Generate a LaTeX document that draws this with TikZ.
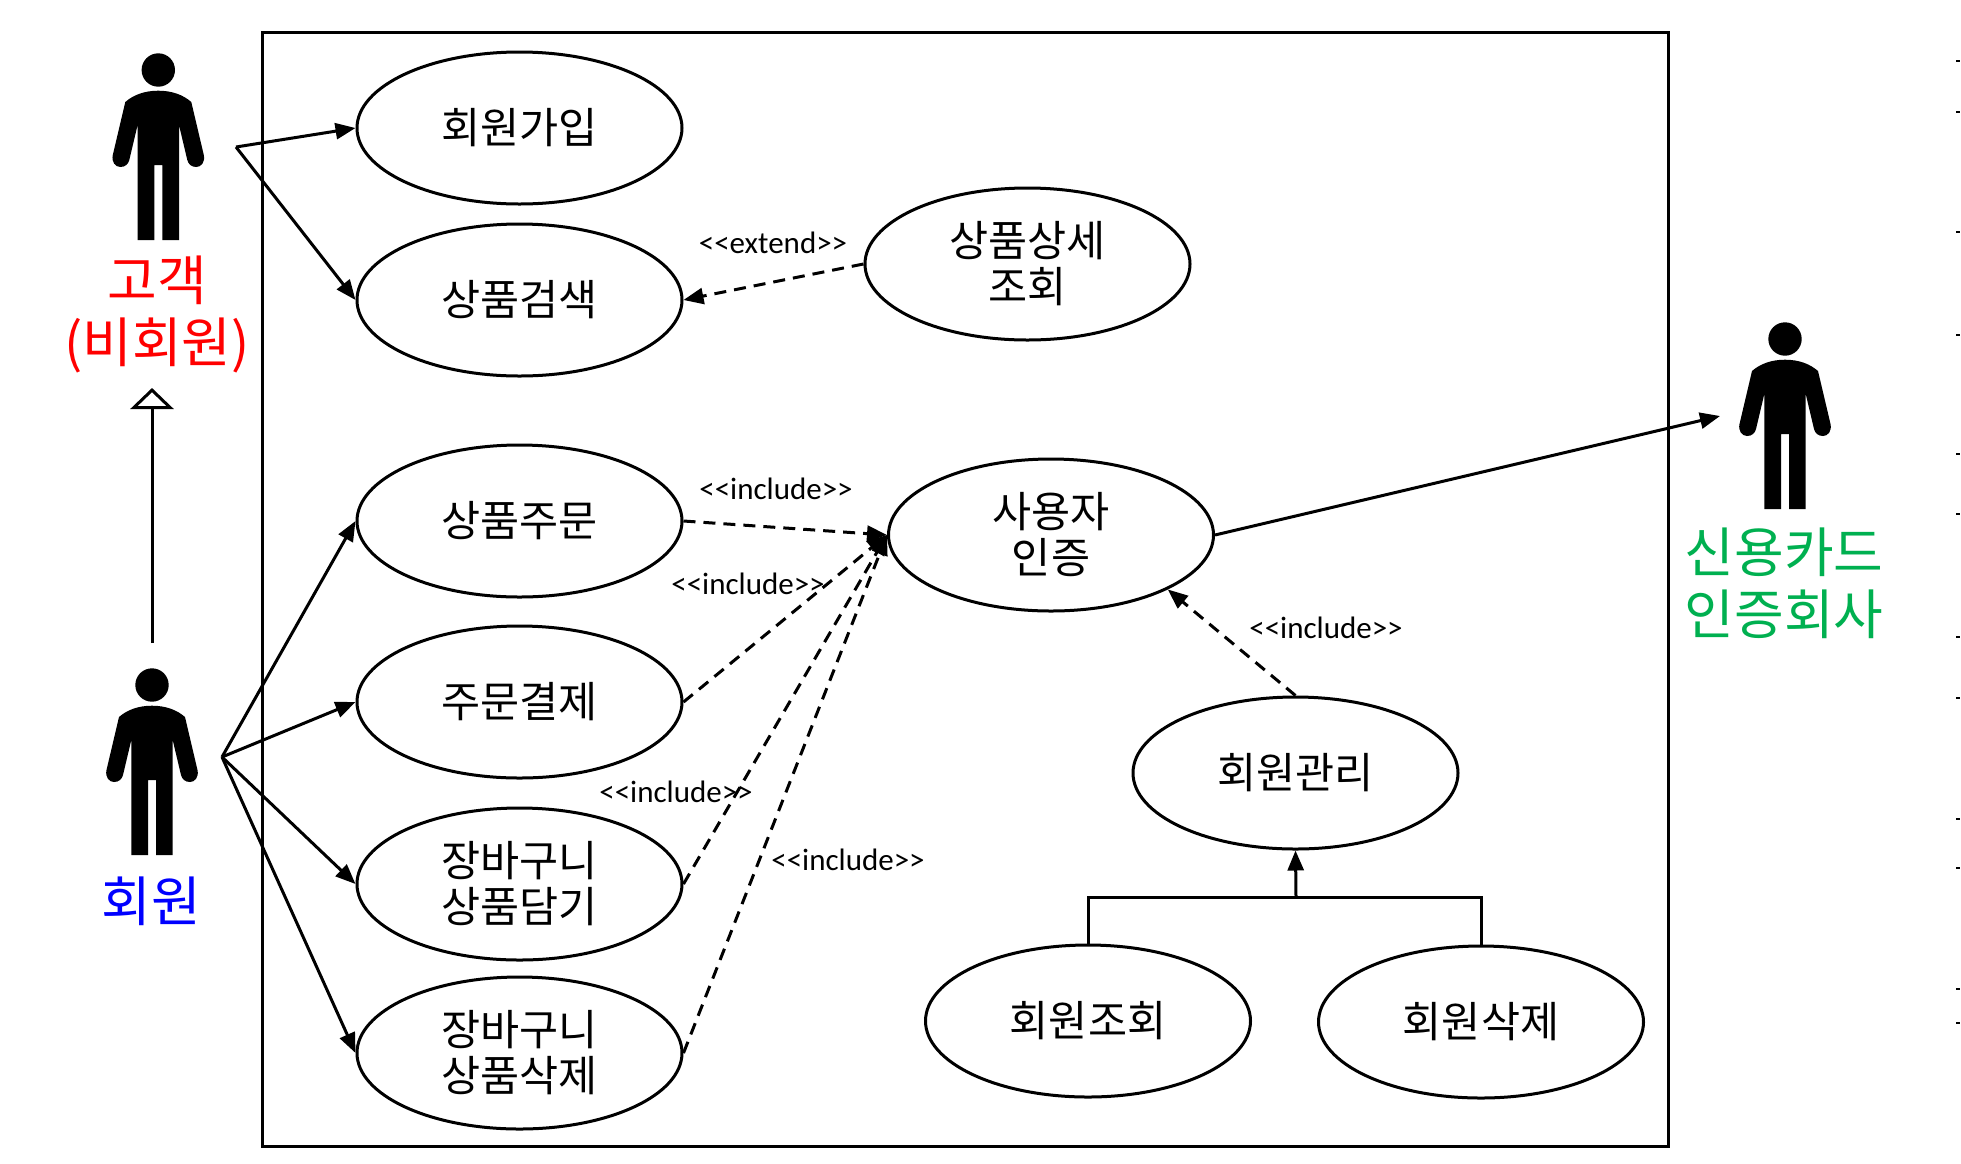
\documentclass[tikz,border=0pt]{standalone}
\usepackage{fontspec}
\setmainfont{Noto Sans CJK KR}
\newfontfamily\labelfont{Carlito}
\usetikzlibrary{arrows.meta,shapes.geometric}
\definecolor{actgreen}{RGB}{0,176,80}
\tikzset{
  x=1pt,y=-1pt,
  usecase/.style={draw=black,line width=3pt,ellipse,minimum width=325pt,minimum height=152pt,inner sep=0pt,font=\fontsize{42.5}{46}\selectfont,align=center},
  assoc/.style={line width=3pt,-{Triangle[length=20pt,width=16pt]}},
  dep/.style={assoc,dash pattern=on 12pt off 8pt},
  gen/.style={line width=3pt},
  stereo/.style={font=\labelfont\fontsize{31}{34}\selectfont,inner sep=0pt},
  actorlabel/.style={font=\fontsize{54}{62}\selectfont,align=center,inner sep=0pt},
  speck/.style={line width=1.5pt},
}
\newcommand{\actorfig}[2]{%
  \begin{scope}[shift={(#1,#2)}]
    \fill (0,0) circle[radius=16.7];
    \fill (0,20.7) .. controls (14,20.7) and (25,25) .. (33,32)
      -- (45.5,85) .. controls (47,92) and (43,97) .. (38,97)
      .. controls (33,97) and (30,94) .. (29,90) -- (20.7,55)
      -- (20.7,170) -- (4,170) -- (4,95) -- (-4,95) -- (-4,170) -- (-20.7,170)
      -- (-20.7,55) -- (-29,90) .. controls (-30,94) and (-33,97) .. (-38,97)
      .. controls (-43,97) and (-47,92) .. (-45.5,85)
      -- (-33,32) .. controls (-25,25) and (-14,20.7) .. (0,20.7) -- cycle;
  \end{scope}}
\begin{document}
\begin{tikzpicture}
\useasboundingbox (0,0) rectangle (1961,1163);
\fill[white] (0,0) rectangle (1961,1163);
\draw[line width=3pt] (262.5,32) rectangle (1668,1146);

\actorfig{158.3}{70}
\actorfig{152}{685}
\actorfig{1785}{339}

\node[actorlabel,text=red] (lblcust) at (157,314) {고객\\(비회원)};
\node[actorlabel,text=blue] (lblmem) at (151,901) {회원};
\node[actorlabel,text=actgreen] (lblcard) at (1784,583) {신용카드\\인증회사};

\node[usecase] (join) at (519.5,128) {회원가입};
\node[usecase] (search) at (519.5,300) {상품검색};
\node[usecase] (detail) at (1027.5,264) {상품상세\\조회};
\node[usecase] (order) at (519.5,521) {상품주문};
\node[usecase] (pay) at (519.5,702) {주문결제};
\node[usecase] (cartadd) at (519.5,884) {장바구니\\상품담기};
\node[usecase] (cartdel) at (519.5,1053) {장바구니\\상품삭제};
\node[usecase] (auth) at (1051,535) {사용자\\인증};
\node[usecase] (mgmt) at (1295.5,773) {회원관리};
\node[usecase] (view) at (1088,1021) {회원조회};
\node[usecase] (remove) at (1481,1022) {회원삭제};

\coordinate (custfrom) at (236,147);
\coordinate (memfrom) at (222,757);
\coordinate (genfrom) at (152,643);
\coordinate (gento) at (152,388);
\coordinate (cardto) at (1720,416);
\coordinate (genjoin) at (1296,897);

\draw[assoc] (custfrom) -- (join.west);
\draw[assoc] (custfrom) -- (search.west);
\draw[assoc] (memfrom) -- (order.west);
\draw[assoc] (memfrom) -- (pay.west);
\draw[assoc] (memfrom) -- (cartadd.west);
\draw[assoc] (memfrom) -- (cartdel.west);
\draw[gen,-{Triangle[open,length=21pt,width=43pt]}] (genfrom) -- (gento);
\draw[assoc] (auth.east) -- (cardto);

\draw[dep] (detail.west) -- (search.east);
\draw[dep] (order.east) -- (auth.west);
\draw[dep] (pay.east) -- (auth.west);
\draw[dep] (cartadd.east) -- (auth.west);
\draw[dep] (cartdel.east) -- (auth.west);
\draw[dep] (mgmt.north) -- (auth.-25);

\draw[gen] (view.north) |- (genjoin);
\draw[gen] (remove.north) |- (genjoin);
\draw[assoc] (genjoin) -- (mgmt.south);

\node[stereo] (l1) at (773,243) {<{}<extend>{}>};
\node[stereo] (l2) at (776,489) {<{}<include>{}>};
\node[stereo] (l3) at (748,584) {<{}<include>{}>};
\node[stereo] (l4) at (676,792) {<{}<include>{}>};
\node[stereo] (l5) at (848,860) {<{}<include>{}>};
\node[stereo] (l6) at (1326,628) {<{}<include>{}>};

\foreach \yy in {61,112,232,335,454,514,637,698,819,868,989,1023}
  \draw[speck] (1956,\yy) -- (1960,\yy);
\end{tikzpicture}
\end{document}
